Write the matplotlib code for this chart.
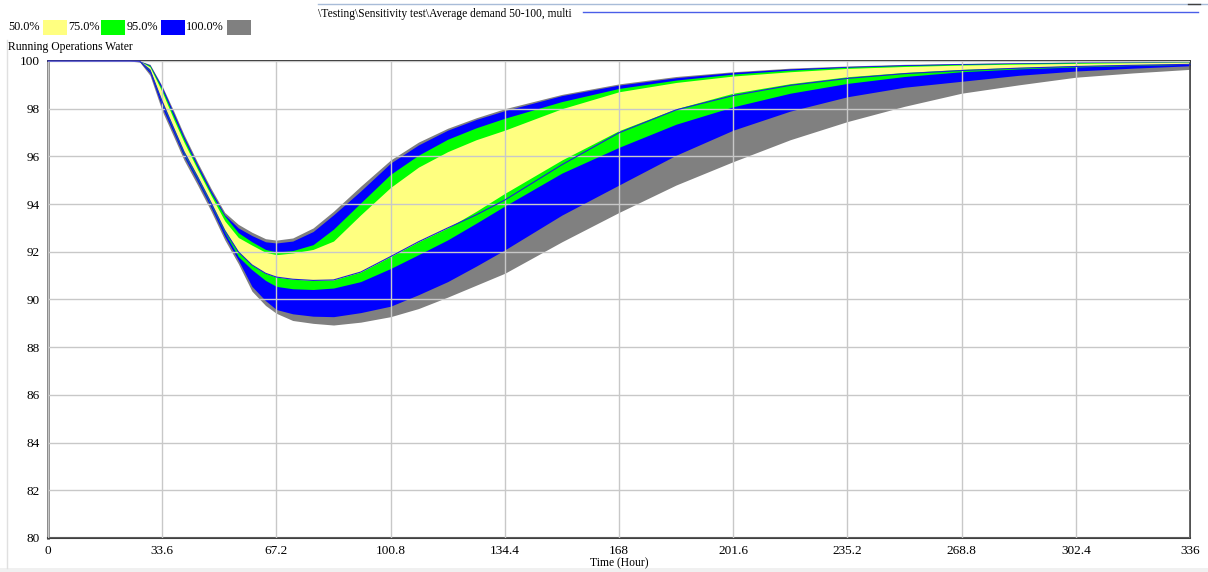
import matplotlib
matplotlib.use('Agg')
import matplotlib.pyplot as plt
from matplotlib.patches import Rectangle
from matplotlib.lines import Line2D

# time axis (hours) and confidence band edges
hours = [0, 24, 27, 30, 33.6, 37, 40, 44, 48, 52, 56, 60, 64, 67.2, 72, 78, 84, 92,
         100.8, 109, 117.6, 126, 134.4, 151.2, 168, 184.8, 201.6, 218.4, 235.2,
         252, 268.8, 285.6, 302.4, 319.2, 336]

gray_lo = [100, 100, 99.95, 99.4, 97.9, 96.82, 95.85, 94.8, 93.7, 92.5, 91.5, 90.35,
           89.75, 89.42, 89.12, 89.0, 88.93, 89.05, 89.28, 89.62, 90.1, 90.6, 91.1,
           92.42, 93.65, 94.8, 95.78, 96.7, 97.46, 98.1, 98.65, 99.0, 99.32, 99.5, 99.65]
blue_lo = [100, 100, 99.97, 99.5, 98.05, 96.97, 96.0, 94.95, 93.85, 92.65, 91.65, 90.55,
           89.95, 89.58, 89.4, 89.3, 89.28, 89.45, 89.72, 90.2, 90.75, 91.4, 92.08,
           93.54, 94.8, 96.05, 97.1, 97.9, 98.5, 98.9, 99.15, 99.4, 99.58, 99.7, 99.8]
green_lo = [100, 100, 99.98, 99.58, 98.2, 97.08, 96.1, 95.05, 93.95, 92.8, 91.8, 91.25,
            90.8, 90.55, 90.45, 90.42, 90.48, 90.75, 91.3, 91.88, 92.5, 93.2, 93.92,
            95.3, 96.38, 97.35, 98.08, 98.65, 99.06, 99.35, 99.55, 99.67, 99.75, 99.81, 99.86]
yellow_lo = [100, 100, 99.99, 99.63, 98.3, 97.18, 96.2, 95.15, 94.05, 92.9, 92.0, 91.45,
             91.1, 90.94, 90.85, 90.8, 90.82, 91.15, 91.8, 92.42, 93.0, 93.7, 94.45,
             95.85, 97.08, 98.0, 98.65, 99.05, 99.34, 99.52, 99.65, 99.73, 99.8, 99.85, 99.88]
yellow_hi = [100, 100, 100, 99.75, 98.7, 97.55, 96.6, 95.45, 94.35, 93.3, 92.6, 92.28,
             91.98, 91.88, 91.95, 92.1, 92.45, 93.55, 94.7, 95.55, 96.2, 96.7, 97.1,
             98.0, 98.71, 99.1, 99.37, 99.55, 99.69, 99.77, 99.83, 99.87, 99.9, 99.93, 99.95]
green_hi = [100, 100, 100, 99.8, 98.8, 97.68, 96.72, 95.55, 94.45, 93.5, 92.8, 92.42,
            92.1, 91.99, 92.05, 92.3, 92.95, 94.05, 95.25, 96.05, 96.72, 97.2, 97.6,
            98.3, 98.85, 99.2, 99.45, 99.62, 99.74, 99.81, 99.86, 99.9, 99.93, 99.95, 99.96]
blue_hi = [100, 100, 100, 99.83, 98.9, 97.8, 96.82, 95.65, 94.55, 93.55, 93.0, 92.68,
           92.42, 92.37, 92.45, 92.85, 93.55, 94.55, 95.72, 96.48, 97.1, 97.55, 97.92,
           98.55, 98.99, 99.3, 99.52, 99.67, 99.77, 99.84, 99.89, 99.92, 99.95, 99.96, 99.97]
gray_hi = [100, 100, 100, 99.86, 98.95, 97.9, 96.92, 95.75, 94.65, 93.65, 93.15, 92.82,
           92.55, 92.49, 92.58, 93.0, 93.7, 94.75, 95.85, 96.6, 97.18, 97.62, 98.0,
           98.6, 99.04, 99.35, 99.55, 99.7, 99.79, 99.86, 99.9, 99.93, 99.96, 99.97, 99.98]
base_run = [100, 100, 99.99, 99.63, 98.3, 97.18, 96.2, 95.15, 94.05, 92.9, 92.0, 91.45,
            91.1, 90.94, 90.85, 90.8, 90.82, 91.15, 91.8, 92.42, 93.0, 93.55, 94.17,
            95.65, 96.99, 97.95, 98.55, 98.98, 99.27, 99.47, 99.6, 99.7, 99.77, 99.82, 99.86]

band_labels = ['50.0%', '75.0%', '95.0%', '100.0%']
band_colors = ['#ffff80', '#00ff00', '#0000ff', '#808080']

x_ticks = [0, 33.6, 67.2, 100.8, 134.4, 168, 201.6, 235.2, 268.8, 302.4, 336]
x_tick_labels = ['0', '33.6', '67.2', '100.8', '134.4', '168', '201.6', '235.2',
                 '268.8', '302.4', '336']
y_ticks = [80, 82, 84, 86, 88, 90, 92, 94, 96, 98, 100]

title_text = r'\Testing\Sensitivity test\Average demand 50-100, multi'
var_name = 'Running Operations Water'
x_label = 'Time (Hour)'

W, H = 1208, 572
FS = 9.5      # tick labels
FS_SMALL = 8.4  # header, variable name, axis label
plt.rcParams['font.family'] = ['Liberation Serif', 'DejaVu Serif']
plt.rcParams['font.size'] = FS


def fx(x):
    return x / W


def fy(y):
    return 1 - y / H


fig = plt.figure(figsize=(W / 100, H / 100), dpi=100)
fig.patch.set_facecolor('white')

# light frame and bottom strip of the window
fig.patches.append(Rectangle((fx(0), 0), 1, fy(568), transform=fig.transFigure,
                             facecolor='#f0f0f0', edgecolor='none', zorder=0))
fig.lines.append(Line2D([fx(7), fx(7)], [fy(568), fy(40)], transform=fig.transFigure,
                        color='#e0e0e0', lw=1))

ax = fig.add_axes([fx(48), fy(538), fx(1190 - 48), (538 - 61) / H])
ax.set_xlim(0, 336)
ax.set_ylim(80, 100)

# bands, outermost first
ax.fill_between(hours, gray_lo, gray_hi, color=band_colors[3], lw=0, zorder=1)
ax.fill_between(hours, blue_lo, blue_hi, color=band_colors[2], lw=0, zorder=1)
ax.fill_between(hours, green_lo, green_hi, color=band_colors[1], lw=0, zorder=1)
ax.fill_between(hours, yellow_lo, yellow_hi, color=band_colors[0], lw=0, zorder=1)
ax.plot(hours, base_run, color='#2020d8', lw=0.8, zorder=3, clip_on=False)

ax.set_xticks(x_ticks)
ax.set_xticklabels(x_tick_labels)
ax.set_yticks(y_ticks)
ax.set_yticklabels([str(v) for v in y_ticks])
ax.tick_params(length=0, labelsize=FS)
ax.tick_params(axis='y', pad=6)
ax.tick_params(axis='x', pad=5)
ax.set_axisbelow(False)
ax.grid(color='#c8c8c8', lw=1, zorder=2)

ax.spines['left'].set_color('#808080')
ax.spines['left'].set_linewidth(2)
ax.spines['bottom'].set_color('#404040')
ax.spines['bottom'].set_linewidth(1.5)
ax.spines['top'].set_color('#303030')
ax.spines['top'].set_linewidth(1.3)
ax.spines['right'].set_color('#303030')
ax.spines['right'].set_linewidth(1.2)

fig.text(fx(619), fy(563), x_label, ha='center', va='center', fontsize=FS_SMALL)

# header: run name and lines
fig.text(fx(318), fy(14), title_text, ha='left', va='center', fontsize=8.3)
fig.lines.append(Line2D([fx(318), fx(1208)], [fy(4), fy(4)], transform=fig.transFigure,
                        color='#a8bcd8', lw=1))
fig.lines.append(Line2D([fx(583), fx(1198)], [fy(12), fy(12)], transform=fig.transFigure,
                        color='#4a5ee8', lw=1))
fig.lines.append(Line2D([fx(1188), fx(1200)], [fy(4), fy(4)], transform=fig.transFigure,
                        color='#404040', lw=1))

# legend row
text_x = [8, 68, 127, 186]
box_x = [43, 101, 161, 227]
for lab, col, tx, bx in zip(band_labels, band_colors, text_x, box_x):
    fig.text(fx(tx), fy(27.5), lab, ha='left', va='center', fontsize=8.8)
    fig.patches.append(Rectangle((fx(bx), fy(35)), fx(24), 15 / H,
                                 transform=fig.transFigure, facecolor=col,
                                 edgecolor='none'))
fig.text(fx(8), fy(47), var_name, ha='left', va='center', fontsize=FS_SMALL)

plt.savefig('out.png', dpi=100)
plt.close()
